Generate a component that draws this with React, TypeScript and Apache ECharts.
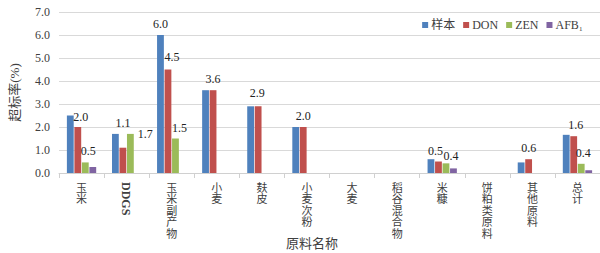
import React, { useEffect, useRef } from "react";
import * as echarts from "echarts";

const categories = ["玉米", "DDGS", "玉米副产物", "小麦", "麸皮", "小麦次粉", "大麦", "稻谷混合物", "米糠", "饼粕类原料", "其他原料", "总计"];
const seriesNames = ["样本", "DON", "ZEN", "AFB₁"];
const sampleValues = [2.5, 1.7, 6.0, 3.6, 2.9, 2.0, 0, 0, 0.6, 0, 0.46, 1.66];
const donValues = [2.0, 1.1, 4.5, 3.6, 2.9, 2.0, 0, 0, 0.5, 0, 0.6, 1.6];
const zenValues = [0.46, 1.7, 1.5, 0, 0, 0, 0, 0, 0.42, 0, 0, 0.4];
const afbValues = [0.26, 0, 0, 0, 0, 0, 0, 0, 0.2, 0, 0, 0.12];
const yTicks = [0, 1, 2, 3, 4, 5, 6, 7];

// label placement (offsets in px) per series, by category index
const labelOffsets: Record<string, Record<number, number[]>> = {
  sample: { 2: [0, 0] },
  don: { 0: [3, 1], 1: [0, -14], 2: [4, -2], 3: [0, 0], 4: [-1, -2], 5: [0, 0], 8: [-3, 0], 10: [0, 0], 11: [2, 0] },
  zen: { 0: [3, 0], 1: [15, 11], 2: [4, 0], 8: [5, 4], 11: [2, 0] },
  afb: {},
};

const colors = ["#4F81BD", "#C0504D", "#9BBB59", "#8064A2"];
const FONT = "'Liberation Serif', 'Noto Sans CJK SC', serif";
const TXT = "#404040";

function build(values: number[], key: string) {
  const cfg = labelOffsets[key];
  return values.map((v, i) =>
    cfg[i] ? { value: v, label: { show: true, offset: cfg[i] } } : v
  );
}

export default function App() {
  const ref = useRef<HTMLDivElement>(null);
  useEffect(() => {
    document.body.style.margin = "0";
    const chart = echarts.init(ref.current!, null, { renderer: "svg" });
    const mkSeries = (name: string, values: number[], key: string, color: string) => ({
      name,
      type: "bar",
      data: build(values, key),
      itemStyle: { color },
      barGap: "10%",
      barCategoryGap: "35%",
      label: {
        show: false,
        position: "top",
        distance: 5,
        fontSize: 12,
        fontFamily: FONT,
        color: "#222",
        formatter: (p: any) => Number(p.value).toFixed(1),
      },
    });
    const option: any = {
      animation: false,
      backgroundColor: "#fff",
      grid: { left: 52, right: 0, top: 12, bottom: 80, containLabel: false },
      legend: {
        top: 14,
        right: 12,
        icon: "rect",
        itemWidth: 6,
        itemHeight: 6,
        itemGap: 8,
        textStyle: { fontSize: 12, fontFamily: FONT, color: TXT, padding: [0, 0, 0, -2] },
        data: seriesNames,
      },
      xAxis: {
        type: "category",
        data: categories,
        axisLine: { lineStyle: { color: "#d0d0d0" } },
        axisTick: { show: true, alignWithLabel: false, length: 5, lineStyle: { color: "#d0d0d0" } },
        axisLabel: {
          interval: 0,
          margin: 9,
          fontSize: 11,
          lineHeight: 11.5,
          fontFamily: FONT,
          color: TXT,
          verticalAlign: "top",
          formatter: (v: string) => (v === "DDGS" ? "" : v.split("").join("\n")),
        },
      },
      yAxis: {
        type: "value",
        min: yTicks[0],
        max: yTicks[yTicks.length - 1],
        interval: 1,
        name: "超标率(%)",
        nameLocation: "middle",
        nameGap: 38,
        nameTextStyle: { fontSize: 13, fontFamily: FONT, color: TXT },
        axisLabel: { fontSize: 12, fontFamily: FONT, color: TXT, margin: 9, formatter: (v: number) => v.toFixed(1) },
        splitLine: { lineStyle: { color: "#d9d9d9" } },
        axisLine: { show: false },
        axisTick: { show: false },
      },
      series: [
        mkSeries(seriesNames[0], sampleValues, "sample", colors[0]),
        mkSeries(seriesNames[1], donValues, "don", colors[1]),
        mkSeries(seriesNames[2], zenValues, "zen", colors[2]),
        mkSeries(seriesNames[3], afbValues, "afb", colors[3]),
      ],
    };
    chart.setOption(option);
    const ddgsX = chart.convertToPixel({ xAxisIndex: 0 }, "DDGS") as number;
    const y0 = chart.convertToPixel({ yAxisIndex: 0 }, 0) as number;
    chart.setOption({
      graphic: [
        {
          type: "text",
          x: ddgsX - 1,
          y: y0 + 9,
          rotation: -Math.PI / 2,
          style: {
            text: "DDGS",
            fontSize: 12,
            fontWeight: "bold",
            fontFamily: FONT,
            fill: TXT,
            align: "left",
            verticalAlign: "middle",
          },
        },
        {
          type: "text",
          x: 312,
          y: 243,
          style: {
            text: "原料名称",
            fontSize: 13,
            fontFamily: FONT,
            fill: TXT,
            align: "center",
            verticalAlign: "middle",
          },
        },
      ],
    });
    return () => chart.dispose();
  }, []);
  return <div ref={ref} style={{ width: 600, height: 253 }} />;
}
